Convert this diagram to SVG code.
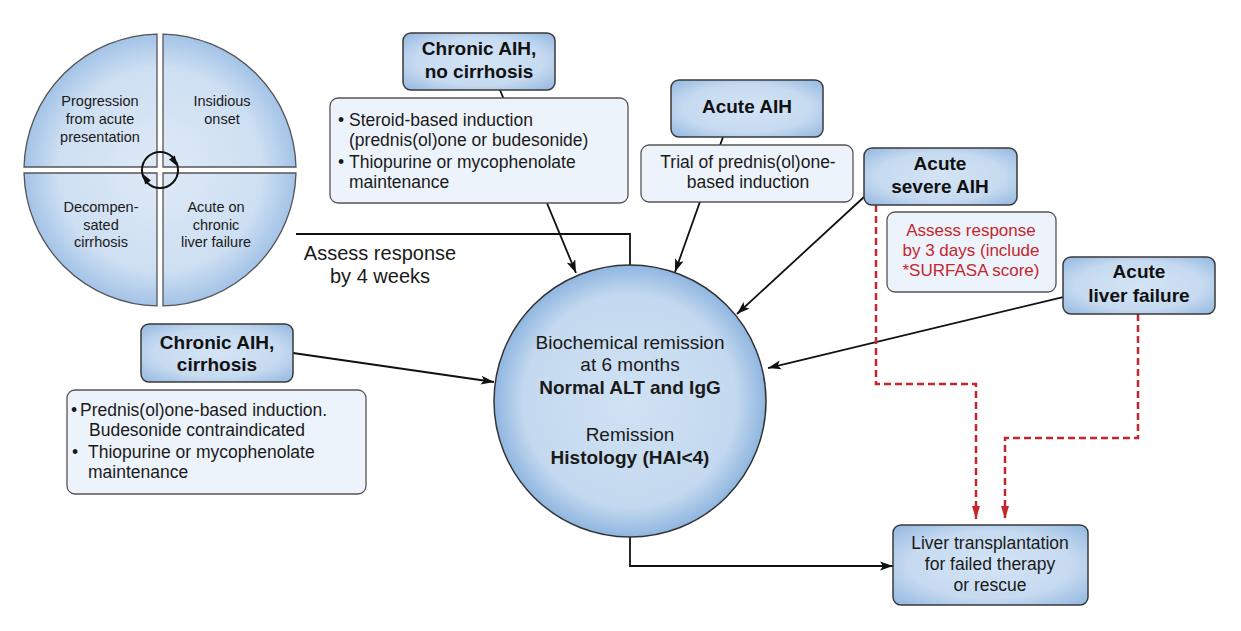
<svg xmlns="http://www.w3.org/2000/svg" width="1241" height="631" viewBox="0 0 1241 631">
<defs>
  <radialGradient id="hdr" cx="50%" cy="50%" r="70%">
    <stop offset="0" stop-color="#d3e4f5"/>
    <stop offset="0.6" stop-color="#c6daf0"/>
    <stop offset="1" stop-color="#92b7e1"/>
  </radialGradient>
  <radialGradient id="big" cx="630" cy="401" r="136" gradientUnits="userSpaceOnUse">
    <stop offset="0" stop-color="#d0e2f4"/>
    <stop offset="0.78" stop-color="#c4d9ef"/>
    <stop offset="1" stop-color="#8fb6e0"/>
  </radialGradient>
  <radialGradient id="quad" cx="160" cy="170" r="136" gradientUnits="userSpaceOnUse">
    <stop offset="0" stop-color="#dfeaf7"/>
    <stop offset="0.75" stop-color="#cddff2"/>
    <stop offset="1" stop-color="#a3c3e7"/>
  </radialGradient>
  <marker id="ab" markerUnits="userSpaceOnUse" markerWidth="14" markerHeight="10" refX="13" refY="5" orient="auto">
    <path d="M0,0.5 L13,5 L0,9.5 L3,5 z" fill="#111"/>
  </marker>
  <marker id="ar" markerUnits="userSpaceOnUse" markerWidth="14" markerHeight="10" refX="13" refY="5" orient="auto">
    <path d="M0,1 L13,5 L0,9 z" fill="#c4262e"/>
  </marker>
  <style>
    .hb{fill:url(#hdr);stroke:#3a3a3a;stroke-width:1.5}
    .tb{fill:#edf3fb;stroke:#555;stroke-width:1.3}
    .q{fill:url(#quad);stroke:#555;stroke-width:1.3}
    .h{font-family:"Liberation Sans",Arial,sans-serif;font-weight:bold;font-size:19px;fill:#111;text-anchor:middle}
    .t{font-family:"Liberation Sans",Arial,sans-serif;font-size:17.5px;fill:#1a1a1a}
    .c{text-anchor:middle}
    .lbl{font-size:20px}
    .red{fill:#c4262e;font-size:17px}
    .qt{font-family:"Liberation Sans",Arial,sans-serif;font-size:14.5px;fill:#1a1a1a;text-anchor:middle}
    .ct{font-family:"Liberation Sans",Arial,sans-serif;font-size:19px;fill:#1a1a1a;text-anchor:middle}
    .ln{fill:none;stroke:#111;stroke-width:1.8}
    .dl{fill:none;stroke:#c4262e;stroke-width:2.5;stroke-dasharray:7 4}
  </style>
</defs>

<g id="connectors">
  <path class="ln" d="M296,234 H630 V266"/>
  <path class="ln" d="M500,90 L576,273" marker-end="url(#ab)"/>
  <path class="ln" d="M723,137 L675,272" marker-end="url(#ab)"/>
  <path class="ln" d="M864,197 L737,314" marker-end="url(#ab)"/>
  <path class="ln" d="M1063,297 L768,368" marker-end="url(#ab)"/>
  <path class="ln" d="M293,353 L494,382" marker-end="url(#ab)"/>
  <path class="ln" d="M630,537 V566 H893" marker-end="url(#ab)"/>
  <path class="dl" d="M876,205 V384 H976 V519" marker-end="url(#ar)"/>
  <path class="dl" d="M1138,314 V438 H1005 V519" marker-end="url(#ar)"/>
</g>

<g id="presentation-wheel">
  <path class="q" d="M157,167 V34.03 A136,136 0 0 0 24.03,167 Z"/>
  <path class="q" d="M163,167 V34.03 A136,136 0 0 1 295.97,167 Z"/>
  <path class="q" d="M157,173 V305.97 A136,136 0 0 1 24.03,173 Z"/>
  <path class="q" d="M163,173 V305.97 A136,136 0 0 0 295.97,173 Z"/>
  <circle cx="160" cy="170" r="18" fill="none" stroke="#111" stroke-width="2"/>
  <polygon points="177,166 174.9,155.5 169.1,159.5" fill="#111"/>
  <polygon points="143,174 145.1,184.5 150.9,180.5" fill="#111"/>
  <text class="qt"><tspan x="100" y="106">Progression</tspan><tspan x="100" y="124">from acute</tspan><tspan x="100" y="142">presentation</tspan></text>
  <text class="qt"><tspan x="222" y="106">Insidious</tspan><tspan x="222" y="124">onset</tspan></text>
  <text class="qt"><tspan x="101" y="212">Decompen-</tspan><tspan x="101" y="230">sated</tspan><tspan x="101" y="247">cirrhosis</tspan></text>
  <text class="qt"><tspan x="216" y="212">Acute on</tspan><tspan x="216" y="230">chronic</tspan><tspan x="216" y="247">liver failure</tspan></text>
</g>

<g id="label-4weeks">
  <text class="t c lbl"><tspan x="380" y="260">Assess response</tspan><tspan x="380" y="283">by 4 weeks</tspan></text>
</g>

<g id="chronic-no-cirrhosis">
  <rect class="hb" x="403" y="33" width="152" height="57" rx="8"/>
  <text class="h"><tspan x="479" y="55">Chronic AIH,</tspan><tspan x="479" y="78">no cirrhosis</tspan></text>
</g>
<g id="chronic-no-cirrhosis-tx">
  <rect class="tb" x="330" y="98" width="298" height="105" rx="8"/>
  <text class="t"><tspan x="338" y="126">•</tspan><tspan x="349" y="126">Steroid-based induction</tspan><tspan x="349" y="146">(prednis(ol)one or budesonide)</tspan><tspan x="338" y="168">•</tspan><tspan x="349" y="168">Thiopurine or mycophenolate</tspan><tspan x="349" y="188">maintenance</tspan></text>
</g>

<g id="acute-aih">
  <rect class="hb" x="671" y="80" width="152" height="57" rx="8"/>
  <text class="h"><tspan x="747" y="113">Acute AIH</tspan></text>
</g>
<g id="acute-aih-tx">
  <rect class="tb" x="641" y="145" width="212" height="57" rx="8"/>
  <text class="t c"><tspan x="748" y="168">Trial of prednis(ol)one-</tspan><tspan x="748" y="188">based induction</tspan></text>
</g>

<g id="acute-severe">
  <rect class="hb" x="864" y="148" width="153" height="57" rx="8"/>
  <text class="h"><tspan x="940" y="170">Acute</tspan><tspan x="940" y="193">severe AIH</tspan></text>
</g>
<g id="acute-severe-tx">
  <rect class="tb" x="887" y="212" width="169" height="80" rx="8"/>
  <text class="t c red"><tspan x="971" y="236">Assess response</tspan><tspan x="971" y="256">by 3 days (include</tspan><tspan x="971" y="276">*SURFASA score)</tspan></text>
</g>

<g id="acute-liver-failure">
  <rect class="hb" x="1063" y="257" width="152" height="57" rx="8"/>
  <text class="h"><tspan x="1139" y="278">Acute</tspan><tspan x="1139" y="302">liver failure</tspan></text>
</g>

<g id="chronic-cirrhosis">
  <rect class="hb" x="141" y="324" width="152" height="58" rx="8"/>
  <text class="h"><tspan x="217" y="349">Chronic AIH,</tspan><tspan x="217" y="371">cirrhosis</tspan></text>
</g>
<g id="chronic-cirrhosis-tx">
  <rect class="tb" x="67" y="390" width="299" height="104" rx="8"/>
  <text class="t"><tspan x="71" y="416">•</tspan><tspan x="80" y="416">Prednis(ol)one-based induction.</tspan><tspan x="89" y="436">Budesonide contraindicated</tspan><tspan x="72" y="458">•</tspan><tspan x="88" y="458">Thiopurine or mycophenolate</tspan><tspan x="88" y="478">maintenance</tspan></text>
</g>

<g id="remission">
  <circle cx="630" cy="401" r="136" fill="url(#big)" stroke="#333" stroke-width="1.5"/>
  <text class="ct"><tspan x="630" y="349">Biochemical remission</tspan><tspan x="630" y="371">at 6 months</tspan><tspan x="630" y="394" font-weight="bold">Normal ALT and IgG</tspan><tspan x="630" y="441">Remission</tspan><tspan x="630" y="464" font-weight="bold">Histology (HAI&lt;4)</tspan></text>
</g>

<g id="transplant">
  <rect class="hb" x="893" y="525" width="195" height="80" rx="8"/>
  <text class="t c"><tspan x="990" y="549">Liver transplantation</tspan><tspan x="990" y="570">for failed therapy</tspan><tspan x="990" y="591">or rescue</tspan></text>
</g>
</svg>
